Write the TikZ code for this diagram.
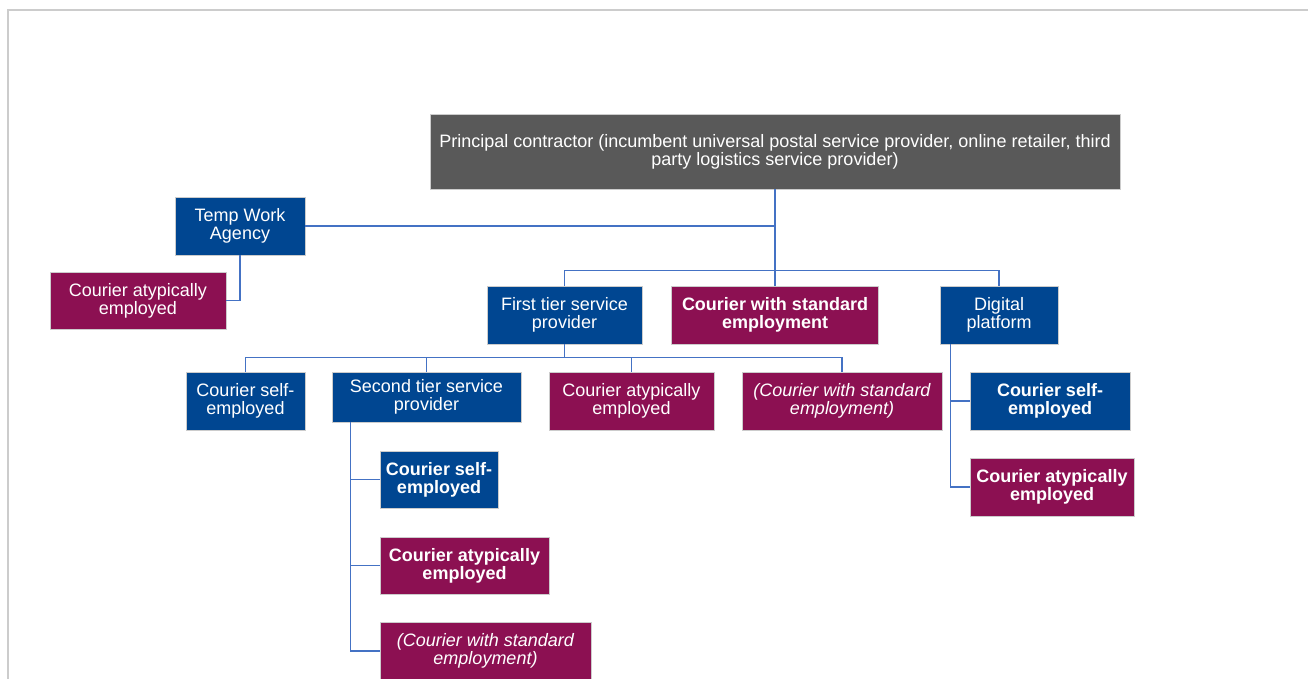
\documentclass[tikz,border=0pt]{standalone}
\usepackage{fontspec}
\setmainfont{Liberation Sans}
\definecolor{boxblue}{RGB}{0,70,145}
\definecolor{boxplum}{RGB}{140,16,82}
\definecolor{boxgrey}{RGB}{89,89,89}
\definecolor{linkblue}{RGB}{68,114,196}
\begin{document}
\begin{tikzpicture}[x=1pt,y=-1pt,
    box/.style={inner sep=0pt,align=center,text=white,draw=white!80!black,line width=0.6pt,font=\fontsize{18}{18}\selectfont},
    bluebox/.style={box,fill=boxblue},
    plumbox/.style={box,fill=boxplum},
    greybox/.style={box,fill=boxgrey},
    link/.style={draw=linkblue,line width=1.5pt}]
\useasboundingbox (0,0) rectangle (1308,679);
\draw[gray!40,line width=1.5pt](8,679)--(8,10)--(1308,10);
% top level
\node[greybox,minimum width=690,minimum height=75](principal)at(775,151.5){Principal contractor (incumbent universal postal service provider, online retailer, third\\party logistics service provider)};
\node[bluebox,minimum width=130,minimum height=58](temp)at(240,226){Temp Work\\Agency};
\node[plumbox,minimum width=176,minimum height=57](tempatyp)at(138,300.5){Courier atypically\\employed};
% first row
\node[bluebox,minimum width=155,minimum height=58](first)at(564.5,315){First tier service\\provider};
\node[plumbox,minimum width=207,minimum height=58](standard)at(775,315){\bfseries Courier with standard\\\bfseries employment};
\node[bluebox,minimum width=118,minimum height=58](digital)at(999,315){Digital\\platform};
% second row
\node[bluebox,minimum width=119,minimum height=58](firstself)at(245.5,401){Courier self-\\employed};
\node[bluebox,minimum width=189,minimum height=50](second)at(426.5,397){Second tier service\\provider};
\node[plumbox,minimum width=165,minimum height=58](firstatyp)at(631.5,401){Courier atypically\\employed};
\node[plumbox,minimum width=200,minimum height=58](firststd)at(842,401){\itshape (Courier with standard\\\itshape employment)};
\node[bluebox,minimum width=160,minimum height=58](digitalself)at(1050,401){\bfseries Courier self-\\\bfseries employed};
\node[plumbox,minimum width=164,minimum height=58](digitalatyp)at(1052,487){\bfseries Courier atypically\\\bfseries employed};
% second tier branch
\node[bluebox,minimum width=118,minimum height=57](secondself)at(439,479.5){\bfseries Courier self-\\\bfseries employed};
\node[plumbox,minimum width=169,minimum height=57](secondatyp)at(464.5,565.5){\bfseries Courier atypically\\\bfseries employed};
\node[plumbox,minimum width=211,minimum height=58](secondstd)at(485.5,651){\itshape (Courier with standard\\\itshape employment)};
% links
\draw[link](principal.south)--(standard.north);
\draw[link](temp.east)-|(principal.south);
\draw[link](temp.south)|-(tempatyp.east);
\draw[link](first.north)--++(0,-15)-|(digital.north);
\draw[link](first.south)--++(0,14);
\draw[link](firstself.north)--++(0,-14)-|(firststd.north);
\draw[link](second.north)--++(0,-14);
\draw[link](firstatyp.north)--++(0,-14);
\draw[link]([xshift=11]digital.south west)|-(digitalself.west);
\draw[link]([xshift=11]digital.south west)|-(digitalatyp.west);
\draw[link]([xshift=19]second.south west)|-(secondself.west);
\draw[link]([xshift=19]second.south west)|-(secondatyp.west);
\draw[link]([xshift=19]second.south west)|-(secondstd.west);
\end{tikzpicture}
\end{document}
